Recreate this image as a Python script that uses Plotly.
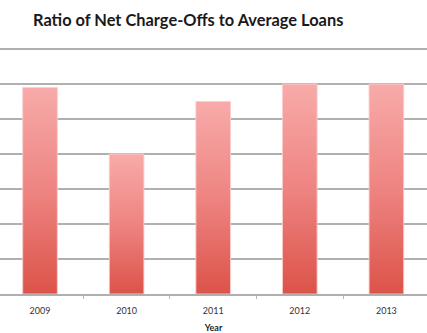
import plotly.graph_objects as go

# Net charge-offs as a ratio of average loans, by year
years = ["2009", "2010", "2011", "2012", "2013"]
ratios = [5.9, 4.0, 5.5, 6.0, 6.0]

BAR_HALF = 0.2
GRADIENT = [[0.0, "#dc5349"], [0.5, "#ee8481"], [1.0, "#f7abaa"]]

fig = go.Figure()

for i, (yr, v) in enumerate(zip(years, ratios)):
    xs = [i - BAR_HALF, i + BAR_HALF, i + BAR_HALF, i - BAR_HALF, i - BAR_HALF]
    ys = [0, 0, v, v, 0]
    fig.add_trace(go.Scatter(
        x=xs, y=ys, mode="lines", fill="toself",
        fillgradient=dict(type="vertical", colorscale=GRADIENT),
        line=dict(color="rgba(250,205,204,0.9)", width=1),
        name=yr, showlegend=False, hoverinfo="skip",
    ))

n = len(years)
x_range = [-0.462, n - 1 + 0.469]
boundaries = [i - 0.5 for i in range(n + 1)]

fig.update_layout(
    width=427, height=333,
    margin=dict(l=0, r=0, t=40, b=39),
    paper_bgcolor="white", plot_bgcolor="white",
    title=dict(
        text="<b>Ratio of Net Charge-Offs to Average Loans</b>",
        font=dict(family="Lato", size=16.4, color="#1a1a1a"),
        xref="container", yref="container",
        x=33 / 427, xanchor="left",
        y=1 - 20 / 333, yanchor="middle",
    ),
    xaxis=dict(
        range=x_range, tickmode="array", tickvals=boundaries,
        ticktext=[""] * len(boundaries),
        ticks="outside", ticklen=3, tickcolor="#b5b5b5",
        showline=True, linecolor="#b0b0b0", linewidth=1.5,
        showgrid=False, zeroline=False, fixedrange=True,
    ),
    xaxis2=dict(
        overlaying="x", side="bottom", anchor="y",
        range=x_range, tickmode="array", tickvals=list(range(n)),
        ticktext=years, ticks="", ticklabelstandoff=10,
        tickfont=dict(family="Lato", size=9, color="#333333"),
        showgrid=False, showline=False, zeroline=False,
        title=dict(text="<b>Year</b>", standoff=10,
                   font=dict(family="Lato", size=9, color="#222222")),
    ),
    yaxis=dict(
        range=[0, 254 / 35.0], dtick=1, showticklabels=False,
        showgrid=True, gridcolor="#b0b0b0", gridwidth=1.5,
        zeroline=False, showline=False, fixedrange=True,
    ),
)

# invisible trace so the label axis is drawn
fig.add_trace(go.Scatter(x=[0], y=[0], xaxis="x2", mode="markers",
                         marker=dict(opacity=0), showlegend=False,
                         hoverinfo="skip"))

fig.write_html("out.html")
